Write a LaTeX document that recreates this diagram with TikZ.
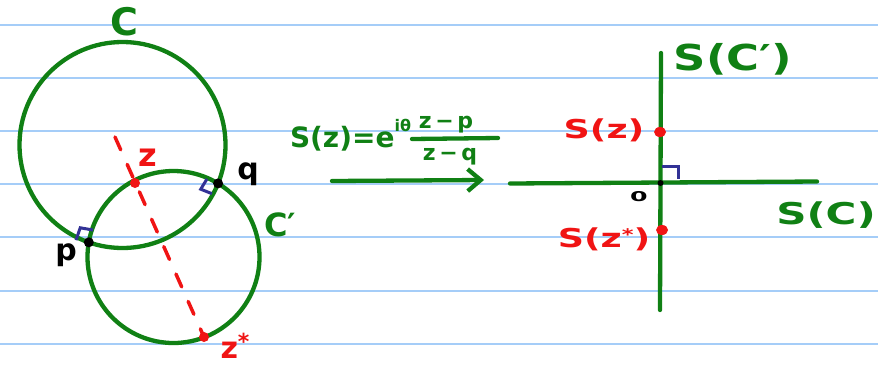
\documentclass[tikz,border=0pt]{standalone}
\usepackage{fontspec}
\setmainfont{DejaVu Sans}
\usetikzlibrary{calc,arrows.meta}
\definecolor{pen}{RGB}{16,128,20}
\definecolor{ink}{RGB}{240,20,20}
\definecolor{markc}{RGB}{50,50,150}
\definecolor{rulec}{RGB}{165,205,248}
\newcommand{\fs}[1]{\bfseries\fontsize{#1}{#1}\selectfont}
\begin{document}
\begin{tikzpicture}[x=1pt,y=-1pt,
  greenline/.style={draw=pen, line width=4.3pt},
  reddash/.style={draw=ink, line width=3.5pt, dash pattern=on 14pt off 16pt, line cap=round},
  anglemark/.style={draw=markc, line width=3pt},
  lab/.style={inner sep=0pt, outer sep=0pt},
  glab/.style={lab, text=pen},
  rlab/.style={lab, text=ink},
  klab/.style={lab, text=black}]
\useasboundingbox (0,0) rectangle (878,365);
\fill[white] (0,0) rectangle (878,365);
\foreach \k in {0,...,6} \draw[rulec, line width=2pt] (0,{25+53.1*\k}) -- (878,{25+53.1*\k});

% ---- left figure ----
\coordinate (A) at (122.5,145);
\coordinate (B) at (173.5,257);
\coordinate (p) at (88.8,242.3);
\coordinate (q) at (218.1,183.4);
\coordinate (z) at (135,183);
\coordinate (zs) at (204,337);
\coordinate (d0) at (115,137);

\draw[greenline] (A) circle[radius=103pt];
\draw[greenline] (B) circle[radius=86pt];

% right-angle marks
\coordinate (qa) at ($(q)!12pt!(A)$);
\coordinate (qb) at ($(q)!12pt!(B)$);
\draw[anglemark] (qa) -- ($(qa)+(qb)-(q)$) -- (qb);
\coordinate (pa) at ($(p)!13pt!(A)$);
\coordinate (pb) at ($(p)!-13pt!(B)$);
\draw[anglemark] (pa) -- ($(pa)+(pb)-(p)$) -- (pb);

\draw[reddash] (d0) -- (zs);

\fill[ink] (z) circle[radius=5pt];
\fill[ink] (zs) circle[radius=5pt];
\fill[black] (p) circle[radius=5pt];
\fill[black] (q) circle[radius=5pt];

\node[glab, font=\fs{38}] (labC) at (124,22) {C};
\node[glab, font=\fs{32}] (labCp) at (280,225) {C′};
\node[klab, font=\fs{30}] (labp) at (66,255) {p};
\node[klab, font=\fs{30}] (labq) at (248,174) {q};
\node[rlab, font=\fs{32}] (labz) at (148,158) {z};
\node[rlab, font=\fs{30}] (labzs) at (235,346) {z\raisebox{9pt}{\fs{22}*}};

% ---- formula and arrow ----
\node[glab, font=\fs{28}, anchor=base west] (Sz) at (290,147) {S(z)=e};
\node[glab, font=\fs{16}, anchor=west] (sup) at (Sz.north east) {iθ};
\node[glab, font=\fs{22}] (num) at (446,125) {z\,−\,p};
\coordinate (bar1) at (412,139);
\coordinate (bar2) at (498,138);
\draw[greenline, line cap=round] (bar1) -- (bar2);
\node[glab, font=\fs{22}] (den) at (450,157) {z\,−\,q};
\coordinate (a1) at (332,181);
\coordinate (a2) at (484,180);
\draw[greenline, line cap=round, -{Straight Barb[length=13pt,width=22pt]}] (a1) -- (a2);

% ---- right figure ----
\coordinate (O) at (660.5,183);
\coordinate (h1) at (510,183.5);
\coordinate (h2) at (817,181.5);
\coordinate (v1) at (661,53);
\coordinate (v2) at (660,310);
\draw[greenline, line cap=round] (h1) -- (h2);
\draw[greenline, line cap=round] (v1) -- (v2);
\draw[anglemark] ($(O)+(1,-17)$) -- ++(17,0) -- ++(0,13);
\fill[black] (O) circle[radius=3pt];
\coordinate (Sz1) at (660,132);
\coordinate (Sz2) at (662,230);
\fill[ink] (Sz1) ellipse[x radius=6pt, y radius=5pt];
\fill[ink] (Sz2) ellipse[x radius=6pt, y radius=5pt];

\node[glab, font=\fs{34}] (SCp) at (733,59) {\scalebox{1.32}[1.05]{S(C′)}};
\node[glab, font=\fs{30}] (SC) at (826,215) {\scalebox{1.4}[1]{S(C)}};
\node[rlab, font=\fs{26}] (SzL) at (604,130) {\scalebox{1.4}[1]{S(z)}};
\node[rlab, font=\fs{26}] (SzsL) at (604,239) {\scalebox{1.4}[1]{S(z\raisebox{7pt}{\fs{16}*})}};
\node[klab, font=\fs{18}] (zero) at (639,197) {\scalebox{1.4}[0.75]{0}};
\end{tikzpicture}
\end{document}
